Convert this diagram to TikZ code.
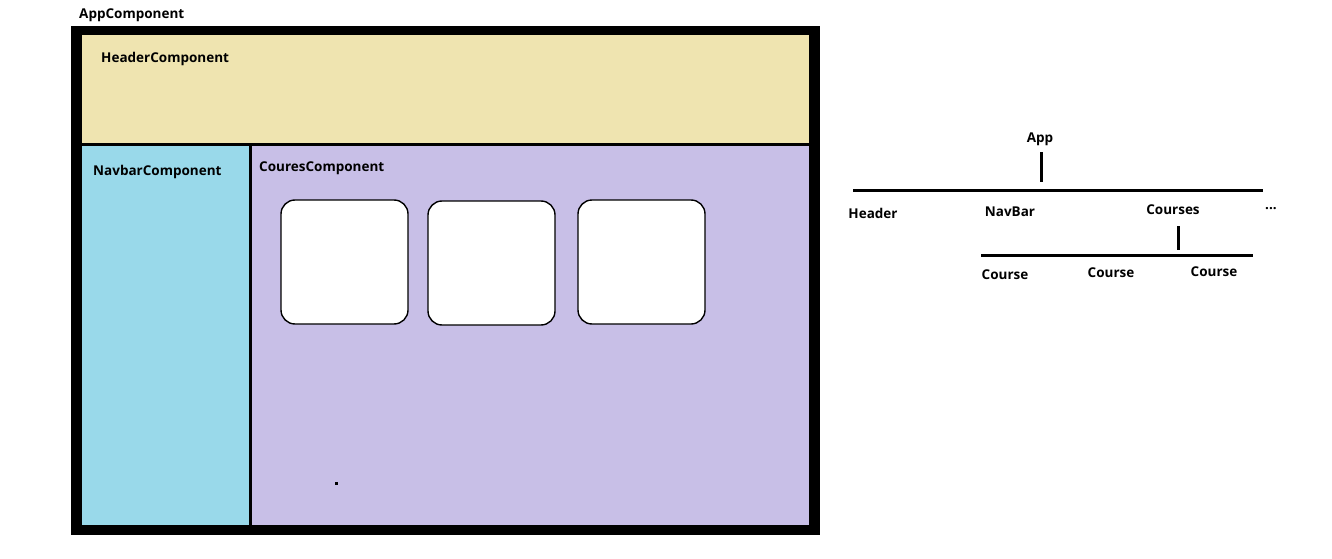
\documentclass[tikz,border=0pt]{standalone}
\usepackage{fontspec}
\setmainfont{Open Sans}
\definecolor{hdr}{HTML}{EFE4B0}
\definecolor{nav}{HTML}{99D9EA}
\definecolor{crs}{HTML}{C8BFE7}
\begin{document}
\begin{tikzpicture}[x=1pt,y=-1pt,
  lbl/.style={inner sep=0pt,font=\bfseries\fontsize{13.5}{15}\selectfont},
  card/.style={draw=black,line width=1.4pt,fill=white,rounded corners=14pt},
  bar/.style={line width=3pt}]
\useasboundingbox (0,0) rectangle (1332,559);
% frame and panels
\fill[black] (71,26) rectangle (820,535);
\fill[hdr] (82,35) rectangle (809,143);
\fill[nav] (82,146) rectangle (249,525);
\fill[crs] (252,146) rectangle (809,525);
\fill[black] (335,482) rectangle (338,485);
% cards
\draw[card] (281,200) rectangle (408,324);
\draw[card] (428,201) rectangle (555,325);
\draw[card] (578,200) rectangle (705,324);
% labels
\node[lbl,anchor=west] (appc) at (79,15) {AppComponent};
\node[lbl,anchor=west] (hdrc) at (101,59) {HeaderComponent};
\node[lbl,anchor=west] (navc) at (93,172) {NavbarComponent};
\node[lbl,anchor=west] (crsc) at (259,168) {CouresComponent};
% tree
\node[lbl] (app) at (1040,139) {App};
\coordinate (apptop) at (1041,152);
\coordinate (appbot) at (1041,182);
\coordinate (l1a) at (853,190);
\coordinate (l1b) at (1263,190);
\draw[bar] (apptop) -- (appbot);
\draw[bar] (l1a) -- (l1b);
\node[lbl] (header) at (873,213) {Header};
\node[lbl] (navbar) at (1010,212) {NavBar};
\node[lbl] (courses) at (1173,210) {Courses};
\node[lbl] (more) at (1271,209) {...};
\coordinate (ctop) at (1178,226);
\coordinate (cbot) at (1178,250);
\coordinate (l2a) at (981,255);
\coordinate (l2b) at (1253,255);
\draw[bar] (ctop) -- (cbot);
\draw[bar] (l2a) -- (l2b);
\node[lbl] (c1) at (1005,275) {Course};
\node[lbl] (c2) at (1111,273) {Course};
\node[lbl] (c3) at (1214,272) {Course};
\end{tikzpicture}
\end{document}
